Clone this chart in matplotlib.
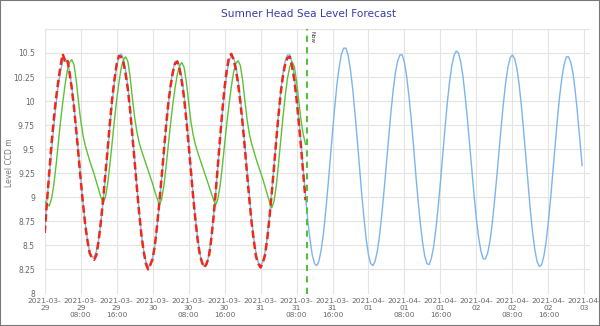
import matplotlib
matplotlib.use("Agg")
import matplotlib.pyplot as plt
import pandas as pd
from matplotlib.patches import Rectangle

# Half-hourly levels (m, CCD) starting 2021-03-29 00:00
forecast = [
    8.68, 8.97, 9.21, 9.47, 9.73, 9.96, 10.16, 10.31, 10.41, 10.44,
    10.41, 10.31, 10.16, 9.95, 9.72, 9.46, 9.20, 8.95, 8.73, 8.56, 8.43, 8.38,
    8.38, 8.44, 8.56, 8.74, 8.96, 9.22, 9.48, 9.75, 9.99, 10.20, 10.36, 10.46,
    10.49, 10.44, 10.32, 10.15, 9.92, 9.66, 9.39, 9.11, 8.85, 8.62, 8.45, 8.33, 8.28,
    8.29, 8.37, 8.50, 8.70, 8.93, 9.19, 9.46, 9.73, 9.97, 10.17, 10.32, 10.41,
    10.42, 10.36, 10.24, 10.06, 9.83, 9.57, 9.30, 9.03, 8.79, 8.58, 8.42, 8.31, 8.28,
    8.30, 8.40, 8.56, 8.78, 9.04, 9.32, 9.60, 9.87, 10.11, 10.29, 10.42, 10.47,
    10.45, 10.37, 10.22, 10.03, 9.80, 9.54, 9.27, 9.01, 8.77, 8.57, 8.42, 8.32, 8.29,
    8.33, 8.43, 8.59, 8.81, 9.06, 9.33, 9.61, 9.87, 10.11, 10.29, 10.42, 10.48,
    10.48, 10.40, 10.26, 10.06, 9.82, 9.56, 9.28, 9.01, 8.76, 8.56, 8.40, 8.31, 8.29,
    8.34, 8.46, 8.63, 8.86, 9.12, 9.40, 9.68, 9.94, 10.18, 10.36, 10.49, 10.55,
    10.55, 10.47, 10.32, 10.12, 9.87, 9.60, 9.31, 9.03, 8.78, 8.56, 8.40, 8.31, 8.29,
    8.34, 8.45, 8.62, 8.84, 9.09, 9.36, 9.63, 9.89, 10.12, 10.30, 10.42, 10.48,
    10.48, 10.40, 10.25, 10.05, 9.81, 9.54, 9.25, 8.98, 8.74, 8.54, 8.39, 8.31, 8.30,
    8.37, 8.49, 8.68, 8.90, 9.16, 9.44, 9.71, 9.97, 10.19, 10.36, 10.47, 10.52,
    10.50, 10.41, 10.26, 10.05, 9.81, 9.54, 9.27, 9.01, 8.77, 8.58, 8.44, 8.36,
    8.36, 8.42, 8.54, 8.72, 8.95, 9.20, 9.47, 9.73, 9.98, 10.19, 10.35, 10.45, 10.48,
    10.44, 10.34, 10.17, 9.95, 9.69, 9.41, 9.13, 8.86, 8.63, 8.45, 8.33, 8.28,
    8.30, 8.39, 8.54, 8.75, 8.99, 9.26, 9.54, 9.81, 10.05, 10.24, 10.38, 10.46,
    10.46, 10.40, 10.28, 10.09, 9.86, 9.60, 9.33,
]

observed = [
    8.63, 8.95, 9.25, 9.55, 9.80, 10.02, 10.20, 10.36, 10.49, 10.42,
    10.44, 10.30, 10.14, 9.94, 9.70, 9.45, 9.18, 8.94, 8.72, 8.55, 8.42, 8.37,
    8.35, 8.40, 8.55, 8.75, 8.98, 9.25, 9.50, 9.78, 10.02, 10.22, 10.38, 10.47,
    10.46, 10.40, 10.28, 10.12, 9.90, 9.64, 9.37, 9.10, 8.84, 8.61, 8.44, 8.31, 8.25,
    8.30, 8.36, 8.50, 8.71, 8.95, 9.21, 9.48, 9.75, 9.98, 10.16, 10.30, 10.39,
    10.41, 10.33, 10.20, 10.03, 9.80, 9.55, 9.28, 9.01, 8.77, 8.56, 8.40, 8.32, 8.27,
    8.31, 8.38, 8.55, 8.77, 9.04, 9.33, 9.62, 9.90, 10.14, 10.33, 10.46, 10.49,
    10.43, 10.33, 10.18, 9.99, 9.77, 9.51, 9.24, 8.98, 8.74, 8.55, 8.38, 8.31, 8.27,
    8.32, 8.40, 8.57, 8.80, 9.05, 9.32, 9.60, 9.86, 10.09, 10.27, 10.39, 10.45,
    10.46, 10.36, 10.22, 10.02, 9.78, 9.52, 9.24, 8.97,
]

inner = [
    8.96, 8.93, 8.91, 8.98, 9.12, 9.32, 9.55, 9.78, 9.98, 10.16, 10.31, 10.40, 10.43,
    10.38, 10.22, 10.00, 9.80, 9.65, 9.54, 9.46, 9.38, 9.31, 9.24, 9.16, 9.08, 9.00, 8.94,
    9.00, 9.14, 9.34, 9.57, 9.80, 10.01, 10.19, 10.34, 10.43, 10.46,
    10.41, 10.25, 10.03, 9.83, 9.68, 9.57, 9.49, 9.42, 9.35, 9.28, 9.21, 9.14, 9.06, 8.99, 8.92,
    8.98, 9.12, 9.32, 9.55, 9.77, 9.97, 10.14, 10.28, 10.37, 10.40,
    10.35, 10.20, 9.99, 9.79, 9.65, 9.55, 9.47, 9.40, 9.33, 9.26, 9.19, 9.12, 9.05, 8.98, 8.92,
    8.98, 9.12, 9.32, 9.55, 9.77, 9.97, 10.15, 10.30, 10.39, 10.42,
    10.37, 10.22, 10.01, 9.81, 9.66, 9.56, 9.48, 9.40, 9.33, 9.26, 9.19, 9.11, 9.03, 8.95, 8.89,
    8.96, 9.12, 9.35, 9.60, 9.84, 10.06, 10.24, 10.36, 10.41,
    10.36, 10.21, 10.00, 9.80, 9.65, 9.55,
]

start = pd.Timestamp("2021-03-29 00:00")
now = pd.Timestamp("2021-03-31 10:18")
y_ticks = [8, 8.25, 8.5, 8.75, 9, 9.25, 9.5, 9.75, 10, 10.25, 10.5, 10.75]
y_labels = ["8", "8.25", "8.5", "8.75", "9", "9.25", "9.5", "9.75", "10", "10.25", "10.5", ""]

t_fc = pd.date_range(start, periods=len(forecast), freq="30min")
t_obs = pd.date_range(start, periods=len(observed), freq="30min")
t_in = pd.date_range(start, periods=len(inner), freq="30min")

fig = plt.figure(figsize=(6, 3.26), dpi=100)
ax = fig.add_axes([44.7 / 600, 32.5 / 326, 545.5 / 600, 264.6 / 326])

ax.plot(t_fc, forecast, color="#7cb5ec", lw=1.0, zorder=3)
ax.plot(t_in, inner, color="#5cc235", lw=1.0, zorder=4)
ax.plot(t_obs, observed, color="#f02818", lw=1.8, ls=(0, (3, 1.5)), zorder=5)

ax.axvline(now, color="#55c040", lw=1.5, ls=(0, (3, 2.5)), zorder=6)
ax.text(now + pd.Timedelta(hours=0.5), 10.73, "Now", rotation=-90, fontsize=4,
        color="#333333", va="top", ha="left")

ax.set_xlim(start, start + pd.Timedelta(hours=121.3))
ax.set_ylim(8, 10.75)

# x ticks every 8 hours, date on two lines and the time underneath
ticks = pd.date_range(start, periods=16, freq="8h")
labels = []
for t in ticks:
    s = t.strftime("%Y-%m-\n%d")
    if t.hour:
        s += t.strftime("\n%H:%M")
    labels.append(s)
ax.set_xticks(ticks, labels)
ax.set_yticks(y_ticks, y_labels)
for lab in ax.get_xticklabels():
    lab.set_linespacing(1.12)
    lab.set_va("top")

ax.tick_params(axis="x", labelsize=5.3, colors="#666666", length=0, pad=3.5)
ax.tick_params(axis="y", labelsize=5.5, colors="#666666", length=0, pad=7)
ax.grid(True, color="#e3e3e3", lw=0.8)
ax.set_axisbelow(True)
for side in ["top", "right", "left", "bottom"]:
    ax.spines[side].set_visible(False)

fig.text(10 / 600, 0.5, "Level CCD m", rotation=90, ha="center", va="center",
         fontsize=5.5, color="#777777")
fig.text(0.515, 0.958, "Sumner Head Sea Level Forecast", ha="center", va="center",
         fontsize=7.6, color="#3a3ab0")

fig.patches.append(Rectangle((0, 0), 1, 1, transform=fig.transFigure, fill=False,
                             edgecolor="#777777", lw=1.5))

fig.savefig("out.png", dpi=100)
